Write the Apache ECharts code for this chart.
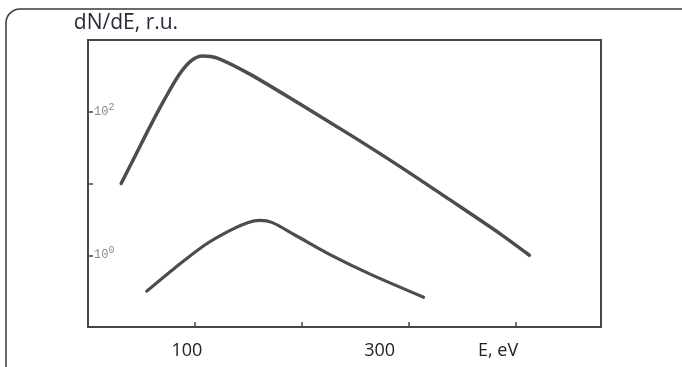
<!DOCTYPE html>
<html>
<head>
<meta charset="utf-8">
<script src="https://cdn.jsdelivr.net/npm/echarts@6/dist/echarts.min.js"></script>
<style>
  html, body { margin: 0; padding: 0; background: #fff; }
  #chart { width: 682px; height: 367px; }
</style>
</head>
<body>
<div id="chart"></div>
<script>
// Energy spectra dN/dE (relative units) vs electron energy E (eV), log scale
const upperE = [31, 44, 58, 72, 86, 97, 107, 121, 151, 198, 245, 292, 338, 385, 413];
const upperN = [10, 24, 62, 152, 340, 520, 600, 560, 337, 129, 48, 17.2, 6.0, 2.02, 1.0];

const lowerE = [55, 81, 109, 133, 150, 161, 172, 194, 226, 264, 314];
const lowerN = [0.316, 0.66, 1.38, 2.22, 2.87, 3.06, 2.87, 1.9, 1.03, 0.545, 0.26];

const xTickLabels = { 100: '100', 300: '300' };
const yTickLabels = { 1: '10{s|0}', 100: '10{s|2}' };

const pairs = (xs, ys) => xs.map((x, i) => [x, ys[i]]);

const ink = '#474747';
const textFont = 'Open Sans';
const chart = echarts.init(document.getElementById('chart'));
chart.setOption({
  animation: false,
  backgroundColor: '#fff',
  grid: {
    left: 88, top: 40, right: 81, bottom: 40,
    show: true, borderColor: ink, borderWidth: 2
  },
  graphic: [{
    type: 'rect',
    shape: { x: 6, y: 9, width: 760, height: 420, r: 14 },
    style: { fill: 'none', stroke: '#3a3a3a', lineWidth: 1.5 },
    silent: true
  }],
  xAxis: {
    type: 'value', min: 0, max: 480, interval: 100,
    name: 'E, eV',
    nameLocation: 'end',
    nameGap: -123,
    nameTextStyle: {
      fontFamily: textFont, fontSize: 18, color: '#222',
      align: 'left', verticalAlign: 'top', padding: [15, 0, 0, 0]
    },
    axisLine: { show: true, lineStyle: { color: ink, width: 2 } },
    axisTick: { inside: true, length: 5, lineStyle: { color: ink, width: 1.5 } },
    splitLine: { show: false },
    axisLabel: {
      margin: 15,
      fontFamily: textFont, fontSize: 18, color: '#222',
      formatter: v => xTickLabels[v] ? '{' + (v === 300 ? 'b' : 'a') + '|' + xTickLabels[v] + '}' : '',
      rich: {
        a: { fontFamily: textFont, fontSize: 18, color: '#222', padding: [0, 16, 0, 0] },
        b: { fontFamily: textFont, fontSize: 18, color: '#222', padding: [0, 58, 0, 0] }
      }
    }
  },
  yAxis: {
    type: 'log', logBase: 10, min: 0.1, max: 1000,
    name: 'dN/dE, r.u.',
    nameLocation: 'end',
    nameGap: 6,
    nameTextStyle: {
      fontFamily: textFont, fontSize: 21, color: '#2a2a3a',
      align: 'center', padding: [0, 0, 0, 76]
    },
    axisLine: { show: true, lineStyle: { color: ink, width: 2 } },
    axisTick: { inside: true, length: 5, lineStyle: { color: ink, width: 1.5 } },
    splitLine: { show: false },
    axisLabel: {
      inside: true, margin: 6,
      fontFamily: 'Liberation Mono', fontSize: 12, color: '#8a8a8a',
      formatter: v => yTickLabels[Math.round(v * 1000) / 1000] || '',
      rich: {
        s: { fontFamily: 'Liberation Mono', fontSize: 10, color: '#8a8a8a', verticalAlign: 'top', padding: [0, 0, 9, 0] }
      }
    }
  },
  series: [
    {
      type: 'line', data: pairs(upperE, upperN), smooth: 0.3,
      showSymbol: false,
      lineStyle: { color: '#4d4d4d', width: 3.5, cap: 'round' }
    },
    {
      type: 'line', data: pairs(lowerE, lowerN), smooth: 0.3,
      showSymbol: false,
      lineStyle: { color: '#4d4d4d', width: 3.2, cap: 'round' }
    }
  ]
});
</script>
</body>
</html>
